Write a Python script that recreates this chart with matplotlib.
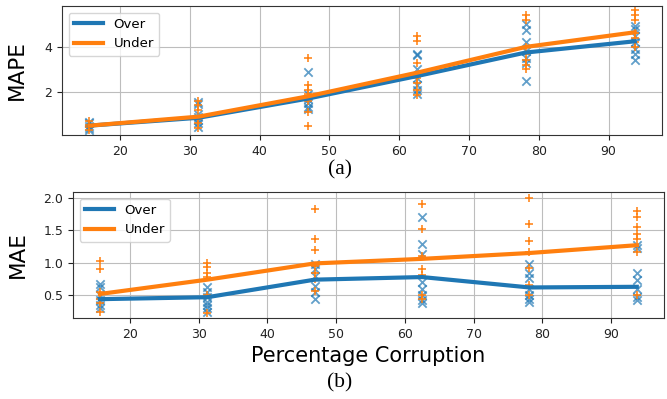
import numpy as np
import matplotlib
matplotlib.use("Agg")
import matplotlib.pyplot as plt

# percentage corruption levels
pct = [15.625, 31.25, 46.875, 62.5, 78.125, 93.75]

# MAPE (a) - summary lines
mape_over = [0.5, 0.85, 1.7, 2.7, 3.75, 4.25]
mape_under = [0.5, 0.9, 1.8, 2.85, 4.0, 4.65]
# MAPE individual runs
mape_over_pts = [[0.3, 0.4, 0.5, 0.6, 0.65],
                 [1.55, 1.45, 1.0, 0.9, 0.75, 0.6, 0.45],
                 [2.9, 1.9, 1.7, 1.5, 1.35, 1.25],
                 [3.7, 3.65, 3.0, 2.6, 2.3, 2.1, 1.9],
                 [5.0, 4.75, 4.2, 3.8, 3.5, 3.3, 2.5],
                 [4.95, 4.8, 4.5, 4.2, 3.9, 3.7, 3.4]]
mape_under_pts = [[0.3, 0.45, 0.55, 0.7],
                  [1.6, 1.4, 1.2, 0.8, 0.6, 0.4],
                  [3.5, 2.3, 2.1, 1.9, 1.6, 1.1, 0.5],
                  [4.5, 4.25, 3.3, 2.6, 2.4, 2.1, 1.85],
                  [5.4, 5.2, 4.0, 3.7, 3.4, 3.2, 3.0],
                  [5.65, 5.4, 5.2, 4.6, 4.4, 4.2, 4.0]]

# MAE (b) - summary lines
mae_over = [0.44, 0.47, 0.74, 0.78, 0.62, 0.63]
mae_under = [0.52, 0.74, 0.99, 1.06, 1.15, 1.27]
# MAE individual runs
mae_over_pts = [[0.68, 0.62, 0.5, 0.42, 0.35, 0.3],
                [0.63, 0.55, 0.47, 0.4, 0.35, 0.3, 0.25],
                [0.98, 0.9, 0.8, 0.65, 0.55, 0.45],
                [1.7, 1.29, 1.14, 0.7, 0.6, 0.5, 0.42, 0.38],
                [0.98, 0.85, 0.76, 0.6, 0.5, 0.45, 0.4],
                [1.27, 1.22, 0.84, 0.73, 0.6, 0.48, 0.42]]
mae_under_pts = [[1.03, 0.91, 0.55, 0.45, 0.38, 0.25],
                 [1.0, 0.93, 0.85, 0.78, 0.5, 0.22],
                 [1.82, 1.37, 1.19, 0.95, 0.85, 0.75, 0.57],
                 [1.91, 1.52, 1.11, 0.91, 0.81, 0.5, 0.45],
                 [2.0, 1.6, 1.34, 1.16, 0.92, 0.66, 0.5],
                 [1.8, 1.7, 1.55, 1.45, 1.37, 1.16, 0.5]]

blue = '#1f77b4'
orange = '#ff7f0e'

fig = plt.figure(figsize=(6.67, 3.99), dpi=100)
ax1 = fig.add_axes([0.093, 0.662, 0.900, 0.323])
ax2 = fig.add_axes([0.1094, 0.203, 0.886, 0.316])


def panel(ax, over, under, over_pts, under_pts):
    for x, ys in zip(pct, over_pts):
        ax.scatter([x]*len(ys), ys, marker='x', color=blue, s=36, alpha=0.7, linewidths=1.3, zorder=2)
    for x, ys in zip(pct, under_pts):
        ax.scatter([x]*len(ys), ys, marker='+', color=orange, s=40, linewidths=1.1, zorder=2)
    ax.plot(pct, over, color=blue, lw=3, label='Over', zorder=3)
    ax.plot(pct, under, color=orange, lw=3, label='Under', zorder=3)
    ax.grid(True, color='#bdbdbd', lw=0.8)
    ax.set_axisbelow(True)
    ax.set_xlim(11.7, 97.7)
    ax.set_xticks([20, 30, 40, 50, 60, 70, 80, 90])
    ax.tick_params(labelsize=9, colors='#222222')
    ax.legend(loc='upper left', fontsize=9.5, handlelength=2.2)
    for s in ax.spines.values():
        s.set_color('#333333')


panel(ax1, mape_over, mape_under, mape_over_pts, mape_under_pts)
ax1.set_ylim(0.09, 5.82)
ax1.set_yticks([2, 4])
ax1.set_ylabel('MAPE', fontsize=15.5)
ax1.yaxis.set_label_coords(-0.058, 0.5)

panel(ax2, mae_over, mae_under, mae_over_pts, mae_under_pts)
ax2.set_ylim(0.15, 2.09)
ax2.set_yticks([0.5, 1.0, 1.5, 2.0])
ax2.set_ylabel('MAE', fontsize=15.5)
ax2.yaxis.set_label_coords(-0.076, 0.5)
ax2.set_xlabel('Percentage Corruption', fontsize=15)

fig.text(340/667, 1-170/399, '(a)', family='Liberation Serif', fontsize=15.5, ha='center', va='center')
fig.text(340/667, 1-383/399, '(b)', family='Liberation Serif', fontsize=15.5, ha='center', va='center')

fig.savefig('out.png', dpi=100)
